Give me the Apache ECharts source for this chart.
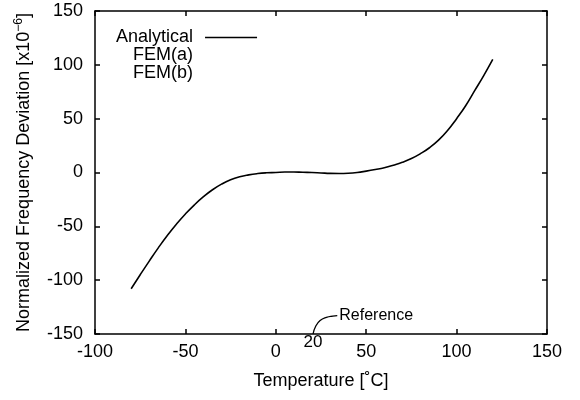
<!DOCTYPE html>
<html>
<head>
<meta charset="utf-8">
<script src="https://cdn.jsdelivr.net/npm/echarts@6/dist/echarts.min.js"></script>
<style>html,body{margin:0;padding:0;background:#fff}#c{width:580px;height:400px}</style>
</head>
<body>
<div id="c"></div>
<script>
const temperature = [-80,-75,-70,-65,-60,-55,-50,-45,-40,-35,-30,-25,-20,-15,-10,-5,0,5,10,15,20,25,30,35,40,45,50,55,60,65,70,75,80,85,90,95,100,105,110,115,120];
const analytical = [-108,-95,-82.3,-70,-58.5,-48,-38.5,-30,-22.5,-16,-10.8,-6.8,-4,-2.2,-1,-0.3,0,0.4,0.5,0.2,0,-0.4,-0.8,-0.9,-0.7,0,1.3,2.8,4.5,6.8,9.5,13,17.5,23,30,39,50,62,76,90,105];
const femA = [];
const femB = [];
const xTicks = {min: -100, max: 150, interval: 50};
const yTicks = {min: -150, max: 150, interval: 50};
const referenceTemp = 20;

const FONT = 'Liberation Sans';
const chart = echarts.init(document.getElementById('c'));
const axisCommon = {
  axisLine: {show: true, onZero: false, lineStyle: {color: '#000', width: 1.5}},
  axisTick: {show: true, inside: true, length: 5, lineStyle: {color: '#000', width: 1.5}},
  splitLine: {show: false}
};
const lbl = (text, pos, size, dist) => ({show: true, formatter: text, position: pos, distance: dist, fontSize: size, color: '#000', fontFamily: FONT});
const leader = [
  {value: [referenceTemp + 0.6, -150], label: lbl(String(referenceTemp), 'bottom', 17, 0)},
  [22, -143], [24.5, -137.5], [28, -134.5], [31.5, -133.3],
  {value: [34, -133], label: lbl('Reference', 'right', 16, 2)}
];
const lineIcon = 'path://M0,0L52,0L52,1.6L0,1.6Z';
chart.setOption({
  animation: false,
  backgroundColor: '#fff',
  textStyle: {fontFamily: FONT, color: '#000'},
  grid: {left: 95, right: 33, top: 11, bottom: 66},
  legend: {
    data: [{name: 'Analytical', icon: lineIcon}, {name: 'FEM(a)', icon: 'none'}, {name: 'FEM(b)', icon: 'none'}],
    orient: 'vertical', align: 'right', left: 116, top: 28.5, padding: 0,
    itemWidth: 52, itemHeight: 15, itemGap: 0,
    itemStyle: {color: '#000'},
    textStyle: {fontSize: 18, color: '#000', fontFamily: FONT, lineHeight: 15, padding: [0, 7, 0, 0]},
    selectedMode: false
  },
  xAxis: [
    Object.assign({type: 'value', position: 'bottom', min: xTicks.min, max: xTicks.max, interval: xTicks.interval,
      name: 'Temperature [˚C]', nameLocation: 'middle', nameGap: 38,
      nameTextStyle: {fontSize: 18, color: '#000', fontFamily: FONT},
      axisLabel: {fontSize: 18, color: '#000', fontFamily: FONT, margin: 9}}, axisCommon),
    Object.assign({type: 'value', position: 'top', min: xTicks.min, max: xTicks.max, interval: xTicks.interval,
      axisLabel: {show: false}}, axisCommon)
  ],
  yAxis: [
    Object.assign({type: 'value', position: 'left', min: yTicks.min, max: yTicks.max, interval: yTicks.interval,
      name: '{a|Normalized Frequency Deviation [x10}{b|−6}{a|]}', nameLocation: 'middle', nameGap: 60,
      nameTextStyle: {fontSize: 18, color: '#000', fontFamily: FONT,
        rich: {a: {fontSize: 18, color: '#000', fontFamily: FONT, lineHeight: 22},
               b: {fontSize: 12, color: '#000', fontFamily: FONT, verticalAlign: 'top', lineHeight: 22}}},
      axisLabel: {fontSize: 18, color: '#000', fontFamily: FONT, margin: 12}}, axisCommon),
    Object.assign({type: 'value', position: 'right', min: yTicks.min, max: yTicks.max, interval: yTicks.interval,
      axisLabel: {show: false}}, axisCommon)
  ],
  series: [
    {name: 'Analytical', type: 'line', smooth: true, symbol: 'none',
     lineStyle: {color: '#000', width: 1.6}, itemStyle: {color: '#000'},
     data: temperature.map((t, i) => [t, analytical[i]])},
    {name: 'FEM(a)', type: 'line', symbol: 'none', data: femA,
     lineStyle: {opacity: 0}, itemStyle: {opacity: 0}},
    {name: 'FEM(b)', type: 'line', symbol: 'none', data: femB,
     lineStyle: {opacity: 0}, itemStyle: {opacity: 0}},
    {name: 'leader', type: 'line', smooth: true, symbol: 'circle', symbolSize: 0, showSymbol: true, clip: false, silent: true,
     itemStyle: {color: '#000'}, lineStyle: {color: '#000', width: 1.3}, data: leader}
  ]
});
</script>
</body>
</html>
